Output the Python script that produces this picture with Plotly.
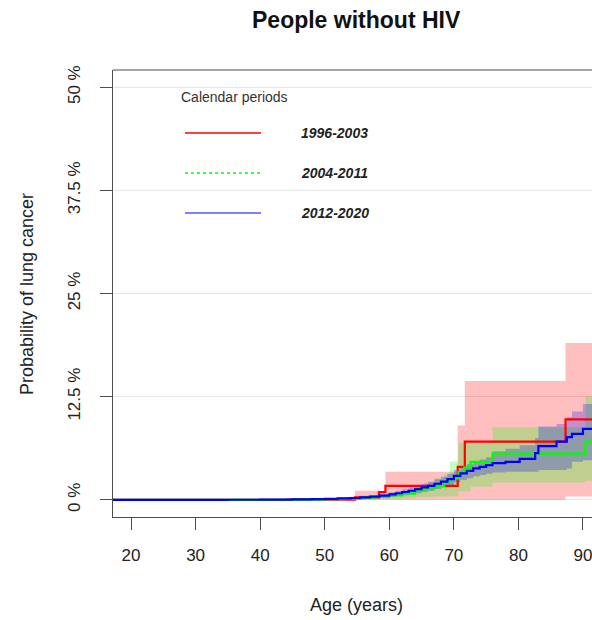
import plotly.graph_objects as go

# ---------------- data ----------------
red_age = [17, 44.2, 54.7, 58.4, 59.4, 70.6, 71.7, 87.3, 96]
red_est = [0, 0.03, 0.3, 0.93, 1.7, 4.0, 7.05, 9.75, 9.75]
red_low = [0, 0, 0, 0, 0, 0, 0, 0.4, 0.4]
red_up = [0, 0.22, 1.1, 1.1, 3.4, 9.0, 14.4, 19.0, 19.0]

green_age = [17, 40, 45, 50, 53, 56, 58, 60, 62, 64, 65.5, 67, 68.5, 69.4, 70.7, 71.6, 72.6, 76.0, 90.4, 96]
green_est = [0, 0.01, 0.03, 0.08, 0.15, 0.25, 0.35, 0.55, 0.75, 1.1, 1.4, 1.7, 2.2, 2.6, 3.4, 3.9, 4.6, 5.6, 7.05, 7.05]
green_low = [0, 0, 0, 0, 0.02, 0.05, 0.08, 0.12, 0.2, 0.3, 0.35, 0.4, 0.4, 0.4, 1.0, 1.0, 1.6, 2.1, 2.3, 2.3]
green_up = [0, 0.05, 0.1, 0.2, 0.3, 0.45, 0.6, 0.85, 1.1, 1.6, 2.1, 2.6, 3.1, 4.6, 6.9, 6.9, 6.9, 8.8, 12.5, 12.5]

blue_age = [17, 35, 40, 45, 48, 50, 52, 54, 55.5, 57, 58.5, 60, 61, 62, 63, 64, 65, 66, 67, 68, 69, 70, 71, 72,
            73, 74, 75, 76, 78, 80.2, 82.6, 83.1, 85.9, 87.5, 88.3, 90.0, 96]
blue_est = [0, 0.01, 0.02, 0.05, 0.08, 0.12, 0.17, 0.22, 0.3, 0.4, 0.5, 0.65, 0.8, 0.95, 1.1, 1.3, 1.5, 1.7,
            1.95, 2.2, 2.5, 2.9, 3.2, 3.5, 3.8, 4.0, 4.2, 4.45, 4.6, 4.96, 5.65, 6.5, 7.06, 7.6, 8.0, 8.6, 8.6]
blue_low = [0, 0, 0, 0.01, 0.02, 0.04, 0.06, 0.09, 0.13, 0.18, 0.25, 0.35, 0.45, 0.55, 0.65, 0.8, 0.95, 1.1,
            1.3, 1.5, 1.75, 2.1, 2.4, 2.6, 2.85, 3.0, 3.15, 3.3, 3.4, 3.4, 3.4, 3.6, 3.6, 3.8, 4.6, 4.8, 4.8]
blue_up = [0, 0.05, 0.08, 0.12, 0.17, 0.22, 0.3, 0.38, 0.48, 0.6, 0.75, 0.92, 1.1, 1.28, 1.48, 1.7, 1.95, 2.2,
           2.5, 2.8, 3.15, 3.6, 3.95, 4.3, 4.65, 4.9, 5.15, 5.9, 6.2, 6.6, 7.5, 8.9, 9.2, 10.0, 10.7, 11.6, 11.6]

periods = ["1996-2003", "2004-2011", "2012-2020"]
x_ticks = [20, 30, 40, 50, 60, 70, 80, 90]
y_ticks = [0, 12.5, 25, 37.5, 50]
y_tick_labels = ["0 %", "12.5 %", "25 %", "37.5 %", "50 %"]

# ---------------- figure ----------------
W, H = 592, 620
ML, MR, MT, MB = 113, 0, 70, 103
PW, PH = W - ML - MR, H - MT - MB


def px(x):
    return (x - ML) / PW


def py(y):
    return (H - MB - y) / PH


series = [
    (red_age, red_est, red_low, red_up, "#FF0000", "rgba(255,0,0,0.25)"),
    (green_age, green_est, green_low, green_up, "#00FF00", "rgba(0,255,0,0.25)"),
    (blue_age, blue_est, blue_low, blue_up, "#0000FF", "rgba(0,0,255,0.25)"),
]

fig = go.Figure()
for age, est, low, up, col, fcol in series:
    fig.add_trace(go.Scatter(x=age, y=low, mode="lines", line=dict(width=0, shape="hv"),
                             hoverinfo="skip", showlegend=False))
    fig.add_trace(go.Scatter(x=age, y=up, mode="lines", line=dict(width=0, shape="hv"),
                             fill="tonexty", fillcolor=fcol, hoverinfo="skip", showlegend=False))
for (age, est, low, up, col, fcol), name in zip(series, periods):
    fig.add_trace(go.Scatter(x=age, y=est, mode="lines", name=name,
                             line=dict(color=col, width=2.2, shape="hv"), showlegend=False))

font = "Liberation Sans, Arial, sans-serif"
axcol = "#4d4d4d"

fig.update_layout(
    width=W, height=H,
    margin=dict(l=ML, r=MR, t=MT, b=MB),
    plot_bgcolor="white", paper_bgcolor="white",
    font=dict(family=font, color="#222222"),
    showlegend=False,
)
fig.update_xaxes(range=[17.21, 91.40], tickvals=x_ticks, showgrid=False, zeroline=False,
                 showline=True, linecolor=axcol, linewidth=1,
                 ticks="outside", ticklen=12, tickcolor=axcol, tickwidth=1,
                 tickfont=dict(size=17, color="#222222"), ticklabelstandoff=11,
                 ticklabeloverflow="allow")
fig.update_yaxes(range=[-2.08, 52.08], tickvals=y_ticks, ticktext=y_tick_labels, tickangle=-90,
                 showgrid=True, gridcolor="#e6e6e6", gridwidth=1, zeroline=False,
                 showline=True, linecolor=axcol, linewidth=1,
                 ticks="outside", ticklen=12, tickcolor=axcol, tickwidth=1,
                 tickfont=dict(size=17, color="#222222"), ticklabelstandoff=13)

# top border of the box
fig.add_shape(type="line", xref="paper", yref="paper", x0=0, x1=1, y0=1, y1=1,
              line=dict(color=axcol, width=1))

# legend (drawn inside plot)
leg_cols = ["#FF0000", "#00FF00", "#8080FF"]
leg_dash = ["solid", "3px,3px", "solid"]
leg_w = [1.4, 1.4, 2.2]
leg_y = [133, 173, 213]
for name, c, d, w, yy in zip(periods, leg_cols, leg_dash, leg_w, leg_y):
    fig.add_shape(type="line", xref="paper", yref="paper", x0=px(185), x1=px(261),
                  y0=py(yy), y1=py(yy), line=dict(color=c, width=w, dash=d))
    fig.add_annotation(xref="paper", yref="paper", x=px(299), y=py(yy), text="<b><i>%s</i></b>" % name,
                       showarrow=False, xanchor="left", yanchor="middle",
                       font=dict(size=14, color="#222222", family=font))
fig.add_annotation(xref="paper", yref="paper", x=px(179), y=py(97), text="Calendar periods",
                   showarrow=False, xanchor="left", yanchor="middle",
                   font=dict(size=14, color="#333333", family=font))

# titles
fig.add_annotation(xref="paper", yref="paper", x=px(356), y=py(20), text="<b>People without HIV</b>",
                   showarrow=False, xanchor="center", yanchor="middle",
                   font=dict(size=23, color="#111111", family=font))
fig.add_annotation(xref="paper", yref="paper", x=px(356), y=py(605), text="Age (years)",
                   showarrow=False, xanchor="center", yanchor="middle",
                   font=dict(size=18, color="#222222", family=font))
fig.add_annotation(xref="paper", yref="paper", x=px(27), y=py(294), text="Probability of lung cancer",
                   showarrow=False, xanchor="center", yanchor="middle", textangle=-90,
                   font=dict(size=18, color="#222222", family=font))

fig.write_html("out.html", config={"displayModeBar": False},
               post_script="document.body.style.margin='0';document.body.style.overflow='hidden';")
